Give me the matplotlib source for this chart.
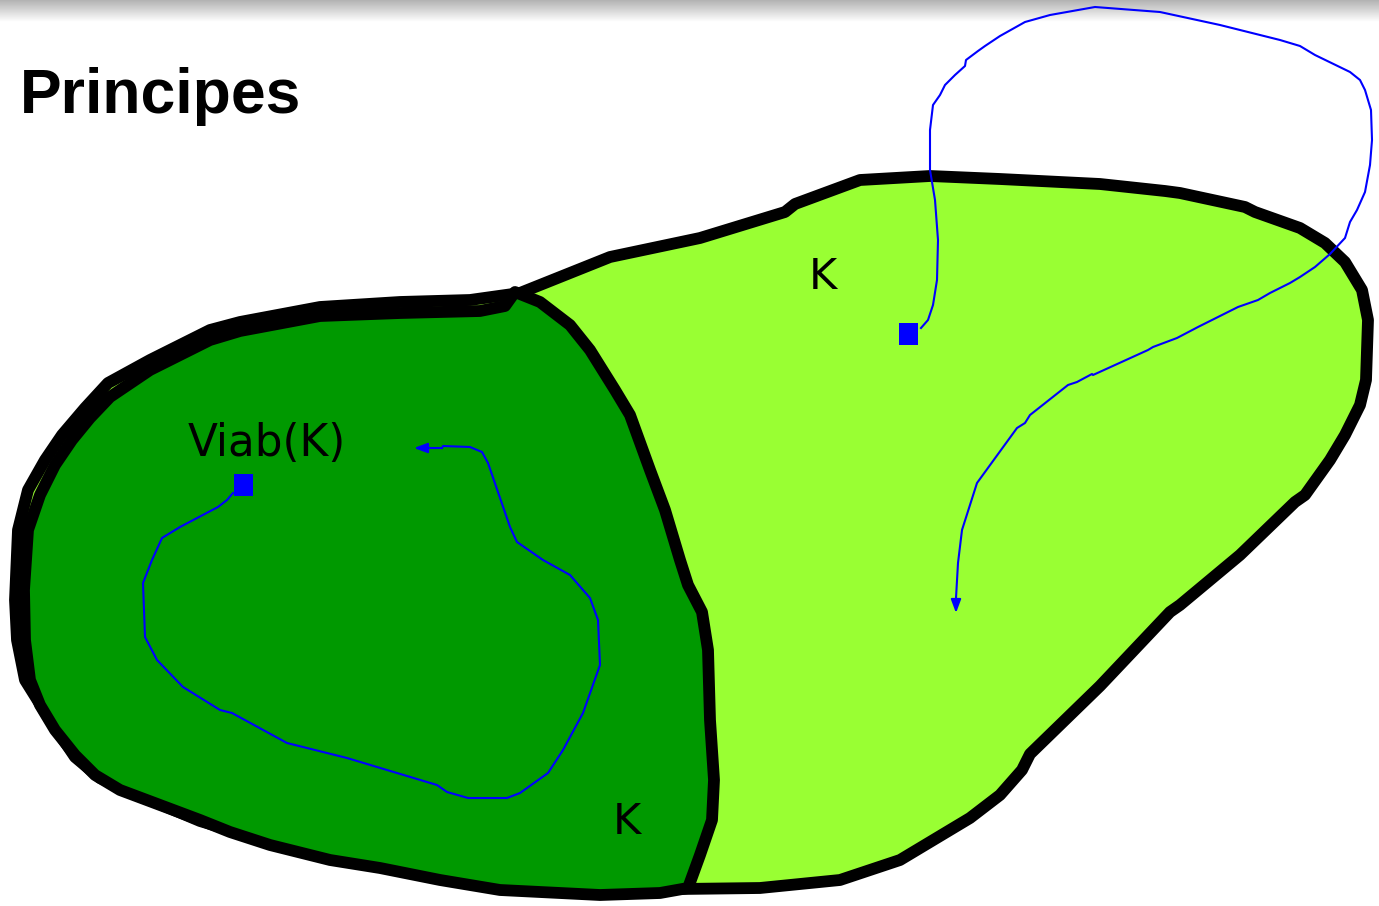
import numpy as np
import matplotlib
matplotlib.use("Agg")
import matplotlib.pyplot as plt
from matplotlib.patches import Polygon, Rectangle

# outline of K (pixel coordinates of the slide, y pointing down)
k_x = [15, 18, 28, 45, 62, 85, 108, 150, 210, 240, 320, 400, 470, 520, 560, 610, 700, 785, 795,
       860, 930, 1000, 1100, 1165, 1180, 1245, 1255, 1300, 1325, 1345, 1362, 1368, 1366, 1360,
       1345, 1330, 1305, 1295, 1240, 1180, 1170, 1100, 1030, 1022, 1000, 970, 900, 840, 760,
       680, 600, 440, 350, 240, 200, 150, 100, 75, 50, 25, 17]
k_y = [600, 530, 490, 460, 435, 408, 383, 360, 330, 322, 307, 302, 300, 293, 277, 257, 238, 212, 204,
       180, 176, 179, 184, 191, 193, 207, 212, 228, 243, 262, 290, 320, 380, 405,
       435, 460, 495, 502, 555, 605, 612, 686, 754, 770, 795, 818, 860, 880, 888,
       889, 887, 879, 860, 833, 821, 800, 778, 757, 720, 680, 640]

# outline of Viab(K)
viab_x = [515, 540, 570, 590, 615, 630, 650, 665, 680, 688, 702, 708, 710, 714, 712, 700, 688,
          660, 600, 500, 440, 380, 330, 270, 230, 200, 160, 120, 95, 75, 55, 40, 30, 25, 24,
          28, 40, 55, 72, 90, 110, 150, 210, 240, 320, 400, 480, 505]
viab_y = [292, 302, 325, 350, 390, 415, 470, 510, 560, 585, 612, 650, 720, 780, 820, 855, 888,
          893, 895, 890, 880, 868, 860, 845, 832, 820, 805, 790, 775, 755, 730, 705, 680, 640, 590,
          530, 495, 465, 440, 418, 397, 370, 340, 331, 316, 313, 311, 306]

# trajectory staying in Viab(K)
traj1_x = [233, 227, 218, 180, 162, 152, 143, 145, 157, 183, 220, 232, 287, 347, 437, 447, 468,
           507, 520, 548, 563, 583, 600, 598, 590, 570, 543, 517, 510, 488, 482, 470, 443, 442, 414]
traj1_y = [493, 500, 507, 527, 538, 560, 583, 637, 660, 687, 710, 713, 743, 758, 785, 792, 798,
           798, 793, 773, 750, 713, 665, 620, 598, 575, 560, 542, 527, 463, 452, 447, 446, 448, 448]

# trajectory leaving K and coming back
traj2_x = [921, 928, 933, 937, 938, 935, 930, 930, 933, 940, 945, 955, 965, 966, 978, 985, 1000,
           1025, 1050, 1095, 1160, 1220, 1280, 1300, 1315, 1350, 1360, 1365, 1371, 1372, 1370,
           1365, 1357, 1350, 1345, 1330, 1315, 1300, 1290, 1270, 1258, 1238, 1198, 1177, 1153,
           1148, 1093, 1092, 1077, 1068, 1030, 1025, 1017, 977, 962, 958, 956, 956]
traj2_y = [328, 320, 305, 280, 240, 200, 170, 130, 105, 95, 85, 75, 66, 60, 51, 46, 36,
           22, 15, 7, 12, 25, 40, 46, 55, 72, 80, 90, 110, 140, 165,
           192, 210, 222, 238, 254, 267, 277, 283, 293, 300, 307, 327, 338, 347,
           350, 375, 374, 382, 385, 415, 423, 428, 483, 530, 563, 598, 613]

squares = [(234, 474), (899, 323)]

fig = plt.figure(figsize=(13.79, 9.06), dpi=100)
ax = fig.add_axes([0, 0, 1, 1])
ax.set_xlim(0, 1379)
ax.set_ylim(906, 0)
ax.axis("off")

# grey shade at the top of the slide
grad = np.linspace(0.70, 1.0, 50).reshape(-1, 1)
ax.imshow(grad, cmap="gray", vmin=0, vmax=1, extent=[0, 1379, 22, 0], aspect="auto", zorder=0)

lw = 8.5
ax.add_patch(Polygon(np.column_stack([k_x, k_y]), closed=True, facecolor="#99ff33",
                     edgecolor="black", linewidth=lw, joinstyle="round", zorder=1))
ax.add_patch(Polygon(np.column_stack([viab_x, viab_y]), closed=True, facecolor="#009900",
                     edgecolor="black", linewidth=lw, joinstyle="round", zorder=2))

for tx, ty in [(traj1_x, traj1_y), (traj2_x, traj2_y)]:
    ax.plot(tx[:-1], ty[:-1], color="#0000ff", lw=1.5, zorder=4)
    ax.annotate("", xy=(tx[-1], ty[-1]), xytext=(tx[-2], ty[-2]),
                arrowprops=dict(arrowstyle="-|>,head_length=0.8,head_width=0.3",
                                color="#0000ff", lw=1.5, shrinkA=0, shrinkB=0), zorder=4)

for sx, sy in squares:
    ax.add_patch(Rectangle((sx, sy), 19, 22, facecolor="#0000ff", edgecolor="none", zorder=5))

ax.text(20, 96, "Principes", fontsize=45, fontweight="bold",
        family=["Liberation Sans", "DejaVu Sans"], ha="left", va="center", zorder=6)
ax.text(188, 443, "Viab(K)", fontsize=31.5, ha="left", va="center", zorder=6)
ax.text(823, 277, "K", fontsize=31, ha="center", va="center", zorder=6)
ax.text(627, 822, "K", fontsize=31, ha="center", va="center", zorder=6)

fig.savefig("out.png", dpi=100)
